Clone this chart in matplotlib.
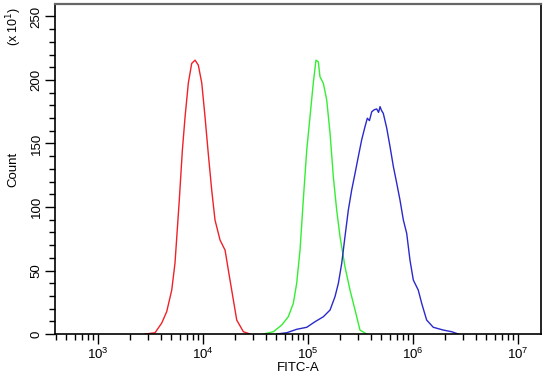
import matplotlib
matplotlib.use("Agg")
import matplotlib.pyplot as plt
import numpy as np
from matplotlib.ticker import LogLocator, MultipleLocator, NullFormatter

plt.rcParams['font.family'] = ['Liberation Sans', 'DejaVu Sans']

# log10(FITC-A) positions and counts (x10^1)
red_log = [3.448, 3.543, 3.607, 3.654, 3.702, 3.733, 3.774, 3.803, 3.829, 3.860, 3.892,
           3.924, 3.955, 3.988, 4.019, 4.050, 4.083, 4.114, 4.162, 4.210, 4.241, 4.273,
           4.321, 4.384, 4.448]
red_count = [0, 1.0, 8.7, 17.6, 34.6, 55.9, 105.5, 144.5, 171, 197.6, 213,
             215.6, 211.7, 197.6, 171, 142, 113, 89.8, 74, 66, 50.4, 34.6,
             11, 1.8, 0]

green_log = [4.574, 4.670, 4.750, 4.812, 4.860, 4.892, 4.924, 4.955, 4.988, 5.019, 5.050,
             5.076, 5.098, 5.114, 5.146, 5.178, 5.210, 5.241, 5.273, 5.305, 5.352, 5.400,
             5.448, 5.495, 5.559]
green_count = [0, 1.8, 7.1, 13.6, 24.1, 39.9, 66, 105.5, 144.9, 171.1, 197.4,
               215.6, 214.3, 202.5, 197.4, 184.3, 158, 123.9, 97.6, 76.6, 53, 34.6,
               18.9, 3.1, 0]

blue_log = [4.702, 4.797, 4.892, 4.988, 5.067, 5.146, 5.210, 5.257, 5.289, 5.321, 5.352,
            5.384, 5.416, 5.448, 5.479, 5.511, 5.543, 5.565, 5.585, 5.607, 5.630, 5.654,
            5.672, 5.686, 5.700, 5.717, 5.750, 5.781, 5.813, 5.845, 5.876, 5.908, 5.940,
            5.971, 6.003, 6.050, 6.083, 6.130, 6.193, 6.289, 6.369, 6.431]
blue_count = [0, 1.0, 3.7, 5.3, 9.7, 13.6, 18.9, 29.4, 39.9, 55.6, 76.6,
              97.6, 113.4, 126.5, 139.6, 152.8, 163.3, 169.9, 168, 175, 176.5, 177.2,
              174.5, 179, 176, 173.7, 162, 147.6, 131.8, 118.7, 105.5, 89.8, 79.2,
              58.3, 42.5, 34.6, 24.1, 11, 5.3, 3.1, 1.8, 0]

fig = plt.figure(figsize=(5.5, 3.75), dpi=100)
ax = fig.add_axes([0.1, 0.1093, 0.8836, 0.88])

ax.plot(10 ** np.array(red_log), red_count, color='#ee2228', lw=1.0)
ax.plot(10 ** np.array(green_log), green_count, color='#33ee33', lw=1.0)
ax.plot(10 ** np.array(blue_log), blue_count, color='#2a2acc', lw=1.0)

ax.set_xscale('log')
ax.set_xlim(10 ** 2.59, 10 ** 7.219)
ax.set_ylim(0, 259.8)

ax.xaxis.set_major_locator(LogLocator(base=10, numticks=10))
ax.xaxis.set_minor_locator(LogLocator(base=10, subs=np.arange(2, 10), numticks=20))
ax.xaxis.set_minor_formatter(NullFormatter())
ax.yaxis.set_major_locator(MultipleLocator(50))
ax.yaxis.set_minor_locator(MultipleLocator(10))

ax.tick_params(which='major', length=7, width=1, direction='out', labelsize=9.5, colors='black')
ax.tick_params(which='minor', length=4.5, width=1, direction='out')
ax.tick_params(axis='x', pad=2)
ax.tick_params(axis='y', pad=2)
for lab in ax.get_yticklabels():
    lab.set_rotation(90)
    lab.set_va('center')

ax.set_xlabel('FITC-A', fontsize=9.5, labelpad=0)
ax.set_ylabel('Count', fontsize=9.5, labelpad=8)
fig.text(0.026, 0.93, r'(x 10$^{1}$)', rotation=90, fontsize=9, ha='center', va='center')

for s in ['left', 'bottom']:
    ax.spines[s].set_color('black')
    ax.spines[s].set_linewidth(1.2)
ax.spines['top'].set_color('#666666')
ax.spines['top'].set_linewidth(1.6)
ax.spines['right'].set_color('#222222')
ax.spines['right'].set_linewidth(1.4)

fig.savefig('out.png', dpi=100)
